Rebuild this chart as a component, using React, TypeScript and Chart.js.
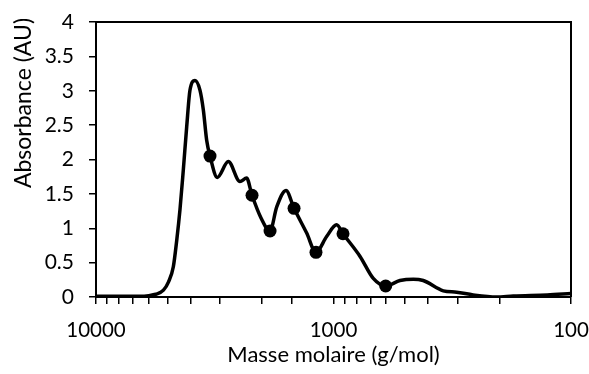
import React, { useEffect, useRef } from "react";
import { Chart, registerables } from "chart.js";

Chart.register(...registerables);

const curveMass = [
  10000, 8000, 6500, 6000, 5600, 5200, 4950, 4725, 4570, 4430, 4289, 4150, 4020, 3830, 3650, 3532, 3420,
  3311, 3085, 2773, 2476, 2322, 2203, 2019, 1850, 1734, 1585, 1466, 1297, 1185, 1069, 970, 912, 773, 680,
  603, 525, 461, 419, 345, 303, 258, 206, 175, 126, 100,
];
const curveAbs = [
  0.01, 0.01, 0.01, 0.02, 0.04, 0.1, 0.22, 0.44, 0.83, 1.27, 1.85, 2.48, 3.01, 3.15, 3.01, 2.72, 2.28,
  2.05, 1.74, 1.97, 1.68, 1.73, 1.48, 1.15, 0.96, 1.31, 1.55, 1.29, 0.93, 0.65, 0.88, 1.05, 0.92, 0.59, 0.27,
  0.16, 0.24, 0.26, 0.24, 0.09, 0.07, 0.03, 0.0, 0.015, 0.03, 0.05,
];
const markerMass = [3311, 2203, 1850, 1466, 1185, 912, 603];
const markerAbs = [2.05, 1.48, 0.96, 1.29, 0.65, 0.92, 0.16];
const xLabels = [10000, 1000, 100];
const yTitle = "Absorbance (AU)";
const xTitle = "Masse molaire (g/mol)";

const FONT = "Lato";

const framePlugin = {
  id: "frame",
  afterDraw(chart: any) {
    const { ctx, chartArea } = chart;
    ctx.save();
    ctx.strokeStyle = "#000";
    ctx.lineWidth = 2;
    ctx.beginPath();
    ctx.moveTo(chartArea.left, chartArea.top);
    ctx.lineTo(chartArea.right, chartArea.top);
    ctx.lineTo(chartArea.right, chartArea.bottom);
    ctx.stroke();
    // y title
    ctx.fillStyle = "#000";
    ctx.font = `23px ${FONT}`;
    ctx.textAlign = "center";
    ctx.textBaseline = "middle";
    ctx.translate(24, 103);
    ctx.rotate(-Math.PI / 2);
    ctx.fillText(yTitle, 0, 0);
    ctx.restore();
  },
};

export default function App() {
  const ref = useRef<HTMLCanvasElement>(null);
  useEffect(() => {
    const chart = new Chart(ref.current!, {
      type: "line",
      data: {
        datasets: [
          {
            data: markerMass.map((m, i) => ({ x: m, y: markerAbs[i] })),
            showLine: false,
            pointRadius: 6.5,
            pointBackgroundColor: "#000",
            pointBorderColor: "#000",
            pointBorderWidth: 0,
          },
          {
            data: curveMass.map((m, i) => ({ x: m, y: curveAbs[i] })),
            borderColor: "#000",
            borderWidth: 3.5,
            pointRadius: 0,
            cubicInterpolationMode: "monotone",
            fill: false,
          },
        ],
      },
      options: {
        animation: false,
        responsive: true,
        maintainAspectRatio: false,
        layout: { padding: { top: 22, right: 18, left: 0, bottom: 0 } },
        plugins: { legend: { display: false }, tooltip: { enabled: false } },
        scales: {
          x: {
            type: "logarithmic",
            min: 100,
            max: 10000,
            reverse: true,
            border: { color: "#000", width: 2 },
            grid: { drawOnChartArea: false, drawTicks: true, tickLength: 7, color: "#000", lineWidth: 1.5 },
            ticks: {
              autoSkip: false,
              maxRotation: 0,
              padding: 14,
              color: "#000",
              font: { family: FONT, size: 20.5 },
              callback: (v: any) => (xLabels.includes(Number(v)) ? String(v) : ""),
            },
            title: {
              display: true,
              text: xTitle,
              color: "#000",
              font: { family: FONT, size: 22 },
              padding: { top: 0, bottom: 6 },
            },
            afterFit: (s: any) => {
              s.height = 77;
              s.paddingLeft = 0;
              s.paddingRight = 0;
            },
          },
          y: {
            min: 0,
            max: 4,
            border: { color: "#000", width: 2 },
            grid: { drawOnChartArea: false, drawTicks: true, tickLength: 7, color: "#000", lineWidth: 1.5 },
            ticks: {
              stepSize: 0.5,
              padding: 15,
              color: "#000",
              font: { family: FONT, size: 21 },
              callback: (v: any) => String(Number(v)),
            },
            afterFit: (s: any) => {
              s.width = 96;
              s.paddingTop = 0;
              s.paddingBottom = 0;
            },
          },
        },
      },
      plugins: [framePlugin],
    } as any);
    return () => chart.destroy();
  }, []);
  return (
    <div style={{ position: "absolute", left: 0, top: 0, width: 589, height: 374, background: "#fff" }}>
      <canvas ref={ref} />
    </div>
  );
}
